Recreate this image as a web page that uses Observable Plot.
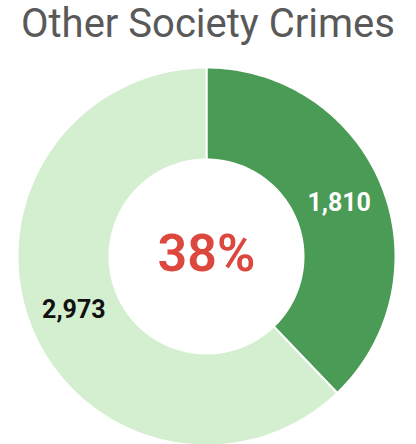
<!DOCTYPE html>
<html><head><meta charset="utf-8">
<script src="https://cdn.jsdelivr.net/npm/d3@7"></script>
<script src="https://cdn.jsdelivr.net/npm/@observablehq/plot@0.6"></script>
<style>
body{margin:0;background:#fff;}
#title{font-family:Roboto,sans-serif;font-size:40px;color:#595959;text-align:center;height:50px;line-height:48px;white-space:nowrap;}
</style></head>
<body>
<div id="title">Other Society Crimes</div>
<div id="chart"></div>
<script>
const categories = ["Other Society Crimes", "Other"];
const values = [1810, 2973];
const labels = ["1,810", "2,973"];
const colors = ["#4a9b55", "#d4efcf"];
const labelColors = ["#ffffff", "#111111"];
const centerLabel = "38%";

const R = 189, r = 97;
const pie = d3.pie().sort(null).value(d => d)(values);
const pts = [];
pie.forEach((p, i) => {
  const n = 120;
  for (let k = 0; k <= n; k++) {
    const a = p.startAngle + (p.endAngle - p.startAngle) * k / n;
    pts.push({s: categories[i], x: Math.sin(a) * R, y: Math.cos(a) * R});
  }
  for (let k = n; k >= 0; k--) {
    const a = p.startAngle + (p.endAngle - p.startAngle) * k / n;
    pts.push({s: categories[i], x: Math.sin(a) * r, y: Math.cos(a) * r});
  }
});
const lab = pie.map((p, i) => {
  const a = (p.startAngle + p.endAngle) / 2, m = (R + r) / 2;
  return {s: categories[i], label: labels[i], x: Math.sin(a) * m, y: Math.cos(a) * m, c: labelColors[i]};
});

const plot = Plot.plot({
  width: 416, height: 394,
  margin: 0,
  x: {domain: [-206, 210], axis: null},
  y: {domain: [-188, 206], axis: null},
  color: {domain: categories, range: colors},
  marks: [
    Plot.line(pts, {x: "x", y: "y", z: "s", fill: "s", stroke: "#fff", strokeWidth: 2, curve: "linear-closed"}),
    Plot.text(lab, {x: "x", y: "y", text: "label", fill: d => d.c, fontSize: 25, fontWeight: "bold", fontFamily: "Roboto"}),
    Plot.text([centerLabel], {x: 0, y: 0, dy: -2, text: d => d, fill: "#dc473e", fontSize: 52, fontWeight: 600, fontFamily: "Roboto"})
  ]
});
document.getElementById("chart").appendChild(plot);
</script>
</body></html>
